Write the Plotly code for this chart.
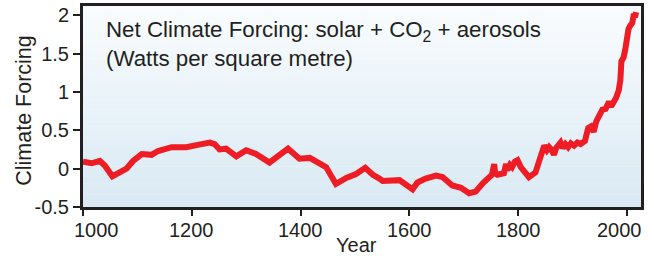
import plotly.graph_objects as go

# ---- data ----
years = [1000, 1016, 1031, 1040, 1054, 1071, 1080, 1092, 1108, 1126, 1138, 1163, 1190,
         1211, 1233, 1242, 1251, 1263, 1282, 1300, 1318, 1343, 1361, 1377, 1398, 1417,
         1447, 1465, 1484, 1502, 1519, 1533, 1545, 1551, 1582, 1594, 1606, 1615, 1630,
         1649, 1661, 1679, 1695, 1710, 1722, 1735, 1747, 1752, 1756, 1758, 1762, 1774,
         1778, 1780, 1785, 1789, 1794, 1799, 1805, 1812, 1820, 1832, 1838, 1841, 1845,
         1848, 1853, 1857, 1862, 1866, 1870, 1874, 1878, 1882, 1887, 1892, 1897, 1903,
         1909, 1915, 1920, 1923, 1926, 1929, 1934, 1939, 1944, 1949, 1955, 1961, 1967,
         1971, 1976, 1980, 1985, 1988, 1990, 1994, 1997, 2000, 2003, 2006, 2010, 2013,
         2015, 2017]
forcing = [0.09, 0.07, 0.10, 0.04, -0.10, -0.04, 0.00, 0.10, 0.19, 0.18, 0.23, 0.28, 0.28,
           0.31, 0.34, 0.32, 0.25, 0.26, 0.16, 0.24, 0.19, 0.08, 0.18, 0.26, 0.13, 0.14,
           0.02, -0.20, -0.12, -0.07, 0.01, -0.08, -0.13, -0.16, -0.15, -0.20, -0.27, -0.18, -0.13,
           -0.09, -0.11, -0.22, -0.25, -0.32, -0.30, -0.19, -0.12, -0.08, 0.06, -0.06, -0.08, -0.06,
           0.06, -0.02, 0.05, 0.02, 0.09, 0.11, 0.02, -0.05, -0.11, -0.05, 0.08, 0.17, 0.22,
           0.30, 0.24, 0.28, 0.24, 0.18, 0.27, 0.30, 0.34, 0.27, 0.32, 0.28, 0.33, 0.30,
           0.34, 0.32, 0.35, 0.36, 0.45, 0.53, 0.55, 0.48, 0.62, 0.71, 0.77, 0.78, 0.87,
           0.81, 0.86, 0.92, 1.02, 1.15, 1.40, 1.45, 1.55, 1.75, 1.82, 1.86, 1.90, 2.02,
           1.97, 2.04]

x_ticks = [1000, 1200, 1400, 1600, 1800, 2000]
x_tick_labels = ["1000", "1200", "1400", "1600", "1800", "2000"]
y_ticks = [-0.5, 0, 0.5, 1, 1.5, 2]
y_tick_labels = ["-0.5", "0", "0.5", "1", "1.5", "2"]

FONT = "Liberation Sans, Arial, sans-serif"
AXIS_COL = "#231f20"
TEXT_COL = "#231f20"
LINE_COL = "#ee1d25"

fig = go.Figure()
fig.add_trace(go.Scatter(x=years, y=forcing, mode="lines",
                         line=dict(color=LINE_COL, width=6),
                         hoverinfo="skip", showlegend=False))

# vertical gradient background (paper-referenced strips)
n = 60
top = (249, 252, 254)
bot = (217, 233, 243)
for i in range(n):
    t = i / (n - 1)
    c = tuple(round(top[k] + (bot[k] - top[k]) * t) for k in range(3))
    fig.add_shape(type="rect", xref="paper", yref="paper",
                  x0=0, x1=1, y0=1 - (i + 1) / n, y1=1 - i / n + 0.002,
                  fillcolor="rgb(%d,%d,%d)" % c, line=dict(width=0), layer="below")

fig.add_annotation(xref="paper", yref="paper", x=0.038, y=0.955,
                   xanchor="left", yanchor="top", align="left", showarrow=False,
                   text="Net Climate Forcing: solar + CO<sub>2</sub> + aerosols<br>(Watts per square metre)",
                   font=dict(family=FONT, size=22.3, color=TEXT_COL))

# x tick labels placed on the x scale (end labels nudged inward as in the reference)
shifts = {0: 13, len(x_ticks) - 1: -7}
for i, (xv, lab) in enumerate(zip(x_ticks, x_tick_labels)):
    fig.add_annotation(xref="x", yref="paper", x=xv, y=-0.116, xshift=shifts.get(i, 0),
                       xanchor="center", yanchor="middle", showarrow=False,
                       text=lab, font=dict(family=FONT, size=20, color=TEXT_COL))

# axis titles
fig.add_annotation(xref="paper", yref="paper", x=-0.106, y=0.483, textangle=-90,
                   xanchor="center", yanchor="middle", showarrow=False,
                   text="Climate Forcing", font=dict(family=FONT, size=21.5, color=TEXT_COL))
fig.add_annotation(xref="paper", yref="paper", x=0.491, y=-0.187,
                   xanchor="center", yanchor="middle", showarrow=False,
                   text="Year", font=dict(family=FONT, size=20, color=TEXT_COL))

fig.update_layout(
    width=654, height=259,
    margin=dict(l=83, r=13, t=6, b=52),
    paper_bgcolor="white", plot_bgcolor="rgba(0,0,0,0)",
    font=dict(family=FONT, color=TEXT_COL),
    xaxis=dict(range=[1000, 2026], tickvals=x_ticks, showticklabels=False,
               ticks="outside", ticklen=6,
               tickwidth=2, tickcolor=AXIS_COL, showgrid=False, zeroline=False,
               showline=True, linecolor=AXIS_COL, linewidth=3, mirror=True,
               automargin=False),
    yaxis=dict(range=[-0.5, 2.12], tickvals=y_ticks, ticktext=y_tick_labels,
               ticks="outside", ticklen=7, tickwidth=2, tickcolor=AXIS_COL,
               showgrid=False, zeroline=False, showline=True, linecolor=AXIS_COL,
               linewidth=3, mirror=True, automargin=False,
               tickfont=dict(size=20, family=FONT)),
)

fig.write_html("out.html", config={"displayModeBar": False},
               post_script="document.body.style.margin='0';document.body.style.overflow='hidden';")
